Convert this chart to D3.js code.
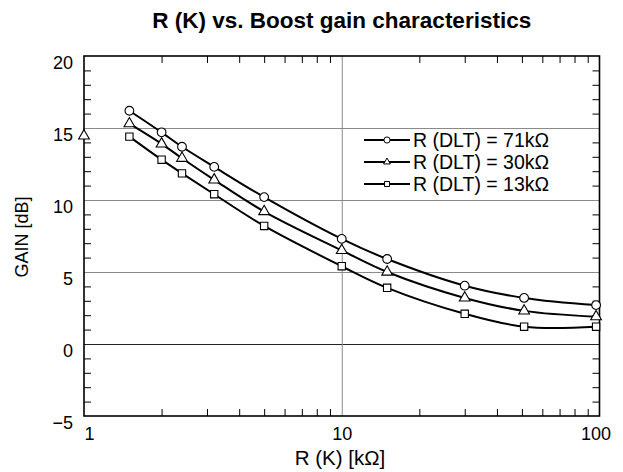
<!DOCTYPE html>
<html lang="en">
<head>
<meta charset="UTF-8">
<title>R (K) vs. Boost gain characteristics</title>
<script src="https://d3js.org/d3.v7.min.js"></script>
<style>
    body { margin: 0; background: #fff; }
    svg { font-family: "Liberation Sans", Arial, sans-serif; }
</style>
</head>
<body>
<div id="chart"></div>
<script>
    // data
    const rValues = [1.5, 2, 2.4, 3.2, 5, 10, 15, 30, 51, 97];
    const gain71 = [16.2, 14.7, 13.7, 12.3, 10.2, 7.3, 5.9, 4.05, 3.2, 2.7];
    const gain30 = [15.3, 13.9, 12.9, 11.4, 9.2, 6.5, 5.0, 3.2, 2.3, 1.9];
    const gain13 = [14.4, 12.8, 11.85, 10.4, 8.2, 5.4, 3.9, 2.1, 1.2, 1.2];
    const seriesNames = ["R (DLT) = 71k\u03A9", "R (DLT) = 30k\u03A9", "R (DLT) = 13k\u03A9"];
    const strayR = [1];
    const strayGain = [14.45];   // lone triangle sitting on the left frame

    const xMajor = [1, 10, 100];
    const xMinor = [2, 3, 4, 5, 6, 7, 8, 9, 20, 30, 40, 50, 60, 70, 80, 90];
    const yMajor = [-5, 0, 5, 10, 15, 20];
    const yMinor = d3.range(-4, 20).filter(v => v % 5 !== 0);

    const W = 623, H = 472;
    const mLeft = 84, mRight = 599.5, mTop = 56, mBottom = 416;

    const x = d3.scaleLog().domain([1, 100]).range([mLeft, mRight]);
    const y = d3.scaleLinear().domain([-5, 20]).range([mBottom, mTop]);

    const svg = d3.select("#chart").append("svg")
        .attr("width", W)
        .attr("height", H);

    svg.append("rect").attr("width", W).attr("height", H).attr("fill", "#fff");

    // title
    svg.append("text")
        .attr("x", (mLeft + mRight) / 2)
        .attr("y", 28)
        .attr("text-anchor", "middle")
        .style("font-size", "22.5px")
        .style("font-weight", "bold")
        .text("R (K) vs. Boost gain characteristics");

    // grid lines
    const gy = svg.append("g")
        .attr("transform", `translate(${mLeft},0)`)
        .call(d3.axisLeft(y).tickValues([0, 5, 10, 15]).tickSize(-(mRight - mLeft)).tickFormat(""));
    gy.select(".domain").remove();
    gy.selectAll("line").attr("stroke", d => d === 0 ? "#222" : "#8a8a8a").attr("stroke-width", 1);

    const gx = svg.append("g")
        .attr("transform", `translate(0,${mBottom})`)
        .call(d3.axisBottom(x).tickValues([10]).tickSize(-(mBottom - mTop)).tickFormat(""));
    gx.select(".domain").remove();
    gx.selectAll("line").attr("stroke", "#8a8a8a").attr("stroke-width", 1);

    // minor ticks, pointing inwards on all four sides
    function minor(axis, transform) {
        const g = svg.append("g").attr("transform", transform).call(axis.tickSize(-7).tickFormat(""));
        g.select(".domain").remove();
        g.selectAll("line").attr("stroke", "#000").attr("stroke-width", 1);
    }
    minor(d3.axisBottom(x).tickValues(xMinor), `translate(0,${mBottom})`);
    minor(d3.axisTop(x).tickValues(xMinor), `translate(0,${mTop})`);
    minor(d3.axisLeft(y).tickValues(yMinor), `translate(${mLeft},0)`);
    minor(d3.axisRight(y).tickValues(yMinor), `translate(${mRight},0)`);

    // frame
    svg.append("rect")
        .attr("x", mLeft).attr("y", mTop)
        .attr("width", mRight - mLeft).attr("height", mBottom - mTop)
        .attr("fill", "none").attr("stroke", "#000").attr("stroke-width", 1.6);

    // tick labels
    const yAxis = svg.append("g")
        .attr("transform", `translate(${mLeft},0)`)
        .call(d3.axisLeft(y).tickValues(yMajor).tickSize(0).tickPadding(11)
            .tickFormat(d => d < 0 ? "\u2212" + Math.abs(d) : String(d)));
    yAxis.select(".domain").remove();
    yAxis.selectAll("text")
        .attr("dy", "0.72em")
        .attr("fill", "#000")
        .style("font-size", "18px")
        .style("font-family", "Liberation Sans, Arial, sans-serif");

    const xAxis = svg.append("g")
        .attr("transform", `translate(0,${mBottom})`)
        .call(d3.axisBottom(x).tickValues(xMajor).tickSize(0).tickPadding(0).tickFormat(d3.format("d")));
    xAxis.select(".domain").remove();
    xAxis.selectAll("text")
        .attr("y", 24)
        .attr("dy", 0)
        .attr("dx", d => d === 1 ? 5 : d === 100 ? -4 : 0)
        .attr("fill", "#000")
        .style("font-size", "18px")
        .style("font-family", "Liberation Sans, Arial, sans-serif");

    // axis titles
    svg.append("text")
        .attr("x", 340)
        .attr("y", 465)
        .attr("text-anchor", "middle")
        .style("font-size", "20.5px")
        .text("R (K) [k\u03A9]");

    svg.append("text")
        .attr("transform", "rotate(-90)")
        .attr("x", -237)
        .attr("y", 28)
        .attr("text-anchor", "middle")
        .style("font-size", "18px")
        .text("GAIN [dB]");

    // series
    const series = [
        { name: seriesNames[0], values: gain71, symbol: d3.symbolCircle, size: 60, legendSize: 30 },
        { name: seriesNames[1], values: gain30, symbol: d3.symbolTriangle, size: 50, legendSize: 20 },
        { name: seriesNames[2], values: gain13, symbol: d3.symbolSquare, size: 54, legendSize: 25 }
    ];

    const line = d3.line()
        .x(d => x(d.r))
        .y(d => y(d.g))
        .curve(d3.curveCatmullRom.alpha(0.5));

    series.forEach(s => {
        const pts = rValues.map((r, i) => ({ r: r, g: s.values[i] }));
        svg.append("path")
            .datum(pts)
            .attr("fill", "none")
            .attr("stroke", "#000")
            .attr("stroke-width", 2)
            .attr("d", line);
        svg.append("g").selectAll("path")
            .data(pts)
            .join("path")
            .attr("transform", d => `translate(${x(d.r)},${y(d.g)})`)
            .attr("d", d3.symbol().type(s.symbol).size(s.size))
            .attr("fill", "#fff")
            .attr("stroke", "#000")
            .attr("stroke-width", 1.1);
    });

    // lone triangle on the left edge
    svg.append("g").selectAll("path")
        .data(strayR.map((r, i) => ({ r: r, g: strayGain[i] })))
        .join("path")
        .attr("transform", d => `translate(${x(d.r)},${y(d.g)})`)
        .attr("d", d3.symbol().type(d3.symbolTriangle).size(50))
        .attr("fill", "#fff")
        .attr("stroke", "#000")
        .attr("stroke-width", 1.1);

    // legend
    const legend = svg.append("g").attr("transform", "translate(364,140)");
    series.forEach((s, i) => {
        const row = legend.append("g").attr("transform", `translate(0,${i * 22})`);
        row.append("line")
            .attr("x1", 0).attr("x2", 46)
            .attr("stroke", "#000").attr("stroke-width", 1.8);
        row.append("path")
            .attr("transform", "translate(23,0)")
            .attr("d", d3.symbol().type(s.symbol).size(s.legendSize))
            .attr("fill", "#fff")
            .attr("stroke", "#000")
            .attr("stroke-width", 1);
        row.append("text")
            .attr("x", 49)
            .attr("y", 0)
            .attr("dy", "0.36em")
            .style("font-size", "19.5px")
            .text(s.name);
    });
</script>
</body>
</html>
